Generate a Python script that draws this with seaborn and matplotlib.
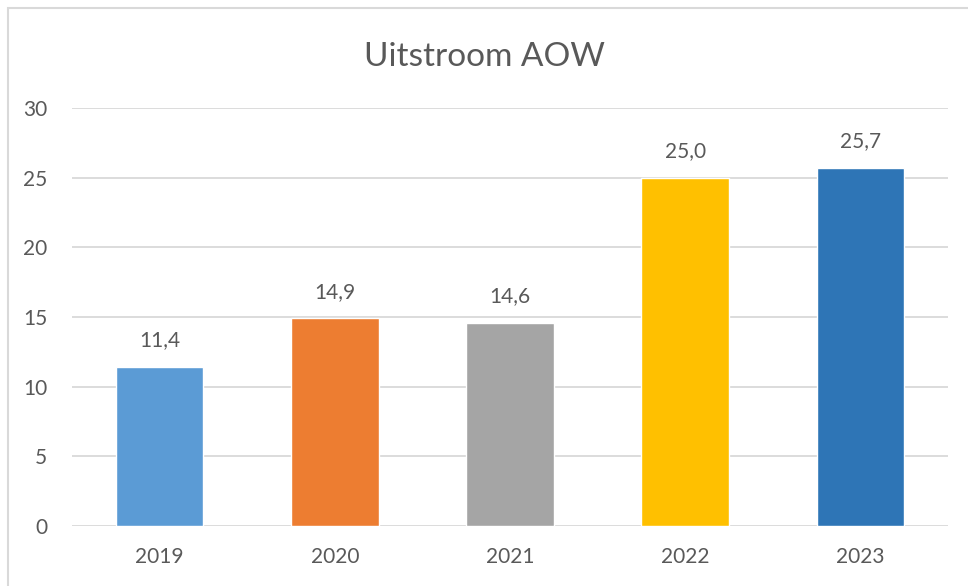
import matplotlib
matplotlib.use("Agg")
import matplotlib.pyplot as plt
import seaborn as sns
import pandas as pd
from matplotlib.patches import Rectangle

years = ["2019", "2020", "2021", "2022", "2023"]
values = [11.4, 14.9, 14.6, 25.0, 25.7]
colors = ["#5B9BD5", "#ED7D31", "#A5A5A5", "#FFC000", "#2E75B6"]
title = "Uitstroom AOW"

sns.set_theme(style="white")
plt.rcParams["font.family"] = ["Lato", "DejaVu Sans"]
text_color = "#595959"

df = pd.DataFrame({"year": years, "value": values})

fig = plt.figure(figsize=(9.68, 5.86), dpi=100)
ax = fig.add_axes([0.0744, 0.1024, 0.905, 0.7133])

sns.barplot(data=df, x="year", y="value", hue="year", palette=colors,
            width=0.5, legend=False, ax=ax, saturation=1)

ax.set_ylim(0, 30)
ax.set_yticks(range(0, 31, 5))
ax.set_xlim(-0.5, 4.5)
ax.yaxis.grid(True, color="#D9D9D9", linewidth=1.3)
ax.set_axisbelow(True)
for s in ax.spines.values():
    s.set_visible(False)
ax.set_xlabel("")
ax.set_ylabel("")
ax.tick_params(axis="both", length=0, labelsize=15, colors=text_color, pad=15)
ax.tick_params(axis="y", pad=18)

for i, v in enumerate(values):
    ax.annotate(f"{v:.1f}".replace(".", ","), (i, v), xytext=(0, 12),
                textcoords="offset points", ha="center", va="bottom",
                fontsize=15, color=text_color)

fig.text(0.5, 0.903, title, ha="center", va="center", fontsize=24, color=text_color)

fig.patches.append(Rectangle((8/968, -0.1), 1.2, 1 - 8/586 + 0.1,
                             transform=fig.transFigure, fill=False,
                             edgecolor="#D9D9D9", linewidth=1.5))

fig.savefig("out.png", dpi=100)
